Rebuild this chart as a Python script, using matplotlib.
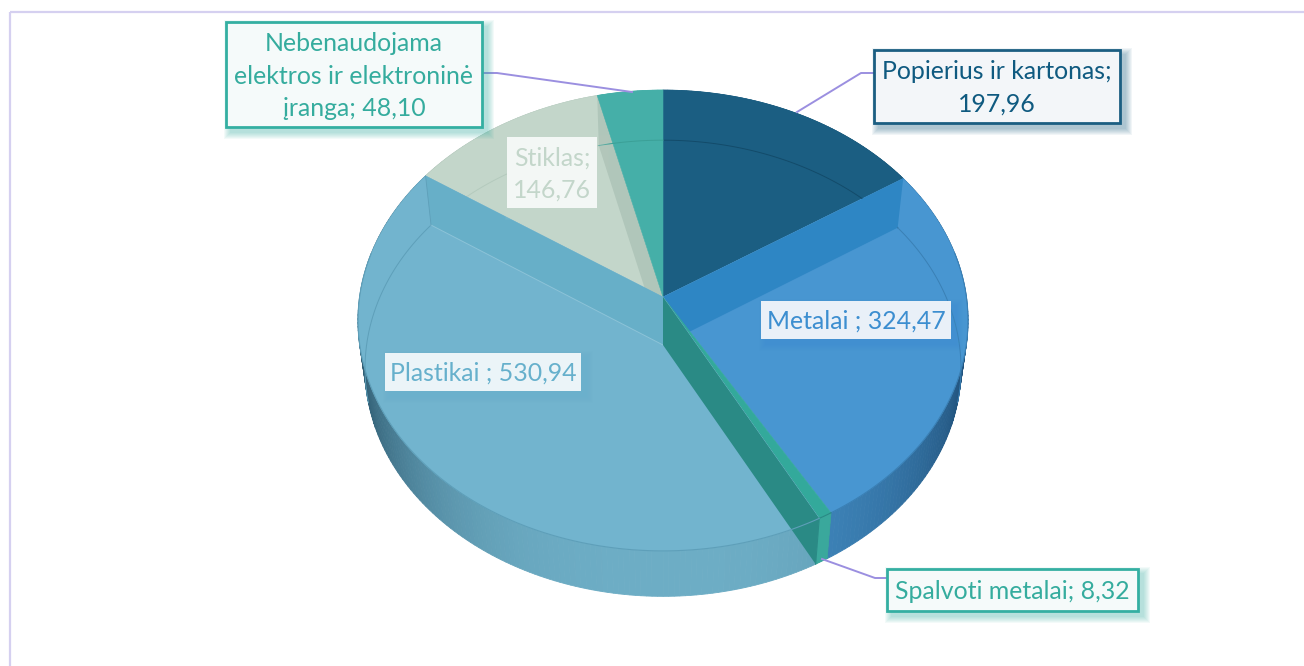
import numpy as np
import matplotlib
matplotlib.use('Agg')
import matplotlib.pyplot as plt
from matplotlib.patches import Rectangle

plt.rcParams['font.family'] = ['Lato', 'DejaVu Sans']

categories = ['Popierius ir kartonas', 'Metalai', 'Spalvoti metalai', 'Plastikai', 'Stiklas',
              'Nebenaudojama elektros ir elektroninė įranga']
values = [197.96, 324.47, 8.32, 530.94, 146.76, 48.10]
labels = ['Popierius ir kartonas;\n197,96', 'Metalai ; 324,47', 'Spalvoti metalai; 8,32',
          'Plastikai ; 530,94', 'Stiklas;\n146,76', 'Nebenaudojama\nelektros ir elektroninė\nįranga; 48,10']

face_colors = ['#1B5E82', '#4896D1', '#33A99B', '#72B4CE', '#C3D6CA', '#45AFA8']
side_colors = ['#1B5E82', '#4088BE', '#3AA89C', '#6DADC5', '#B0C6BA', '#45AFA8']
side_darks = ['#123F58', '#1F4F78', '#2A8A85', '#2F5C72', '#8AA396', '#2F7D78']
rim_colors = ['#134B6A', '#3A80B5', '#2A8A85', '#5E9FB9', '#B4CABD', '#3BA097']

# pie shape on the canvas, in pixels
CX, TOP_Y, BOTTOM_Y = 663, 297, 345
RX, RY, K = 303.4, 228, 0.102
BOTTOM_SCALE_X, BOTTOM_SCALE_Y = 0.977, 0.99

# box, text colour, fill, border
boxes = [
    ((874, 50, 1120, 123), '#0F5A80', '#F3F6F9', '#1B5E82'),
    ((761, 301, 951, 339), '#3C8ED0', '#E9F0F8', None),
    ((887, 569, 1138, 611), '#35AC9E', '#F5FAFA', '#34AFA2'),
    ((385, 353, 581, 391), '#66B0CC', '#EBF4F8', None),
    ((507, 137, 597, 208), '#C3D6CA', '#F3F7F5', None),
    ((226, 22, 482, 127), '#35AC9E', '#F5FAFA', '#34AFA2'),
]
leaders = [
    [(797, 112), (861, 73), (874, 73)],
    [(822, 559), (875, 578), (887, 578)],
    [(482, 73), (497, 73), (632, 92)],
]


def project(theta, bottom=False):
    # theta is clockwise from the back of the pie, with a little perspective
    u, v = np.sin(theta), -np.cos(theta)
    d = 1 - K * v
    if bottom:
        return CX + BOTTOM_SCALE_X * RX * u / d, BOTTOM_Y + BOTTOM_SCALE_Y * RY * v / d
    return CX + RX * u / d, TOP_Y + RY * v / d


def to_rgb(c):
    return np.array(matplotlib.colors.to_rgb(c))


fig = plt.figure(figsize=(13.04, 6.66), dpi=100)
ax = fig.add_axes([0, 0, 1, 1])
ax.set_xlim(0, 1304)
ax.set_ylim(666, 0)
ax.axis('off')

ax.add_patch(Rectangle((10, 12), 1400, 800, fill=False, ec='#D5D0F0', lw=1.6, zorder=1))

edges = np.cumsum([0] + values) / sum(values) * 2 * np.pi

# outer wall, strip by strip so it darkens towards the sides
for i in range(len(values)):
    steps = np.linspace(edges[i], edges[i + 1], max(int((edges[i + 1] - edges[i]) * 60), 2))
    for a, b in zip(steps[:-1], steps[1:]):
        xa, ya = project(a)
        xb, yb = project(b)
        xc, yc = project(b, True)
        xd, yd = project(a, True)
        shade = abs(np.sin((a + b) / 2)) ** 3
        col = to_rgb(side_colors[i]) * (1 - shade) + to_rgb(side_darks[i]) * shade
        ax.fill([xa, xb, xc, xd], [ya, yb, yc, yd], color=col, lw=0.6, zorder=2)


def face(i):
    t = np.linspace(edges[i], edges[i + 1], 120)
    x, y = project(t)
    return np.r_[CX, x], np.r_[TOP_Y, y]


def wall(theta):
    x1, y1 = project(theta)
    x2, y2 = project(theta, True)
    return [CX, x1, x2, CX], [TOP_Y, y1, y2, BOTTOM_Y]


# faces that sit under the inner walls
for i, z in [(0, 3), (1, 3), (4, 3), (5, 6)]:
    x, y = face(i)
    ax.fill(x, y, color=face_colors[i], lw=0.4, zorder=z)

x, y = wall(edges[1])
ax.fill(x, y, color='#2E86C4', lw=0, zorder=4)
x, y = wall(edges[5])
ax.fill(x, y, color='#B0C6BA', lw=0, zorder=4)

# back arcs of the lower disc, seen through the top
for i, z in [(0, 3.5), (1, 5), (4, 3.5), (5, 7)]:
    t = np.linspace(edges[i], edges[i + 1], 120)
    x, y = project(t, True)
    keep = np.cos(t) > -0.25
    ax.plot(x[keep], y[keep], color=rim_colors[i], lw=0.7, zorder=z)

for i in [2, 3]:
    x, y = face(i)
    ax.fill(x, y, color=face_colors[i], lw=0.4, zorder=8)

t = np.linspace(edges[3], edges[4], 120)
x, y = project(t, True)
keep = np.cos(t) > -0.25
ax.plot(x[keep], y[keep], color=rim_colors[3], lw=0.7, zorder=9)

# inner walls of the plastic slice
x, y = wall(edges[4])
ax.fill(x, y, color='#67AFC8', lw=0, zorder=9)
ax.plot(x[2:], y[2:], color='#8CC3D8', lw=0.7, zorder=9)
ax.plot(x[1:3], y[1:3], color='#5E9FB9', lw=0.6, zorder=9)

x, y = wall(edges[3])
ax.fill(x, y, color='#2A8A85', lw=0, zorder=10)

# small side piece of the thin slice stays on top of the dark wall
x1, y1 = project(edges[2])
x2, y2 = project(edges[3])
x3, y3 = project(edges[3], True)
x4, y4 = project(edges[2], True)
ax.fill([x1, x2, x3, x4], [y1, y2, y3, y4], color='#3AA89C', lw=0, zorder=11)
ax.plot([x2, x3], [y2, y3], color='#2A8A85', lw=0.8, zorder=11)

# top rim
for i in [1, 2, 3]:
    t = np.linspace(edges[i], edges[i + 1], 120)
    x, y = project(t)
    keep = np.cos(t) < 0.2
    ax.plot(x[keep], y[keep], color=rim_colors[i], lw=0.8, zorder=11)

for pts in leaders:
    xs, ys = zip(*pts)
    ax.plot(xs, ys, color='#9B8FE0', lw=1.4, zorder=12)

for (box, tc, fc, ec), label in zip(boxes, labels):
    x0, y0, x1, y1 = box
    # soft shadow from stacked rectangles
    for g in range(7, 0, -1):
        ax.add_patch(Rectangle((x0 + 5 - g, y0 + 5 - g), x1 - x0 + 2 * g, y1 - y0 + 2 * g,
                               fc=(ec or tc), ec='none', alpha=0.06, zorder=13))
    ax.add_patch(Rectangle((x0, y0), x1 - x0, y1 - y0, fc=fc, ec=ec or 'none', lw=2 if ec else 0, zorder=14))
    ax.text((x0 + x1) / 2, (y0 + y1) / 2 + 1.5, label, color=tc, fontsize=17.9, ha='center', va='center',
            linespacing=1.5, zorder=15)

fig.savefig('out.png', dpi=100)
